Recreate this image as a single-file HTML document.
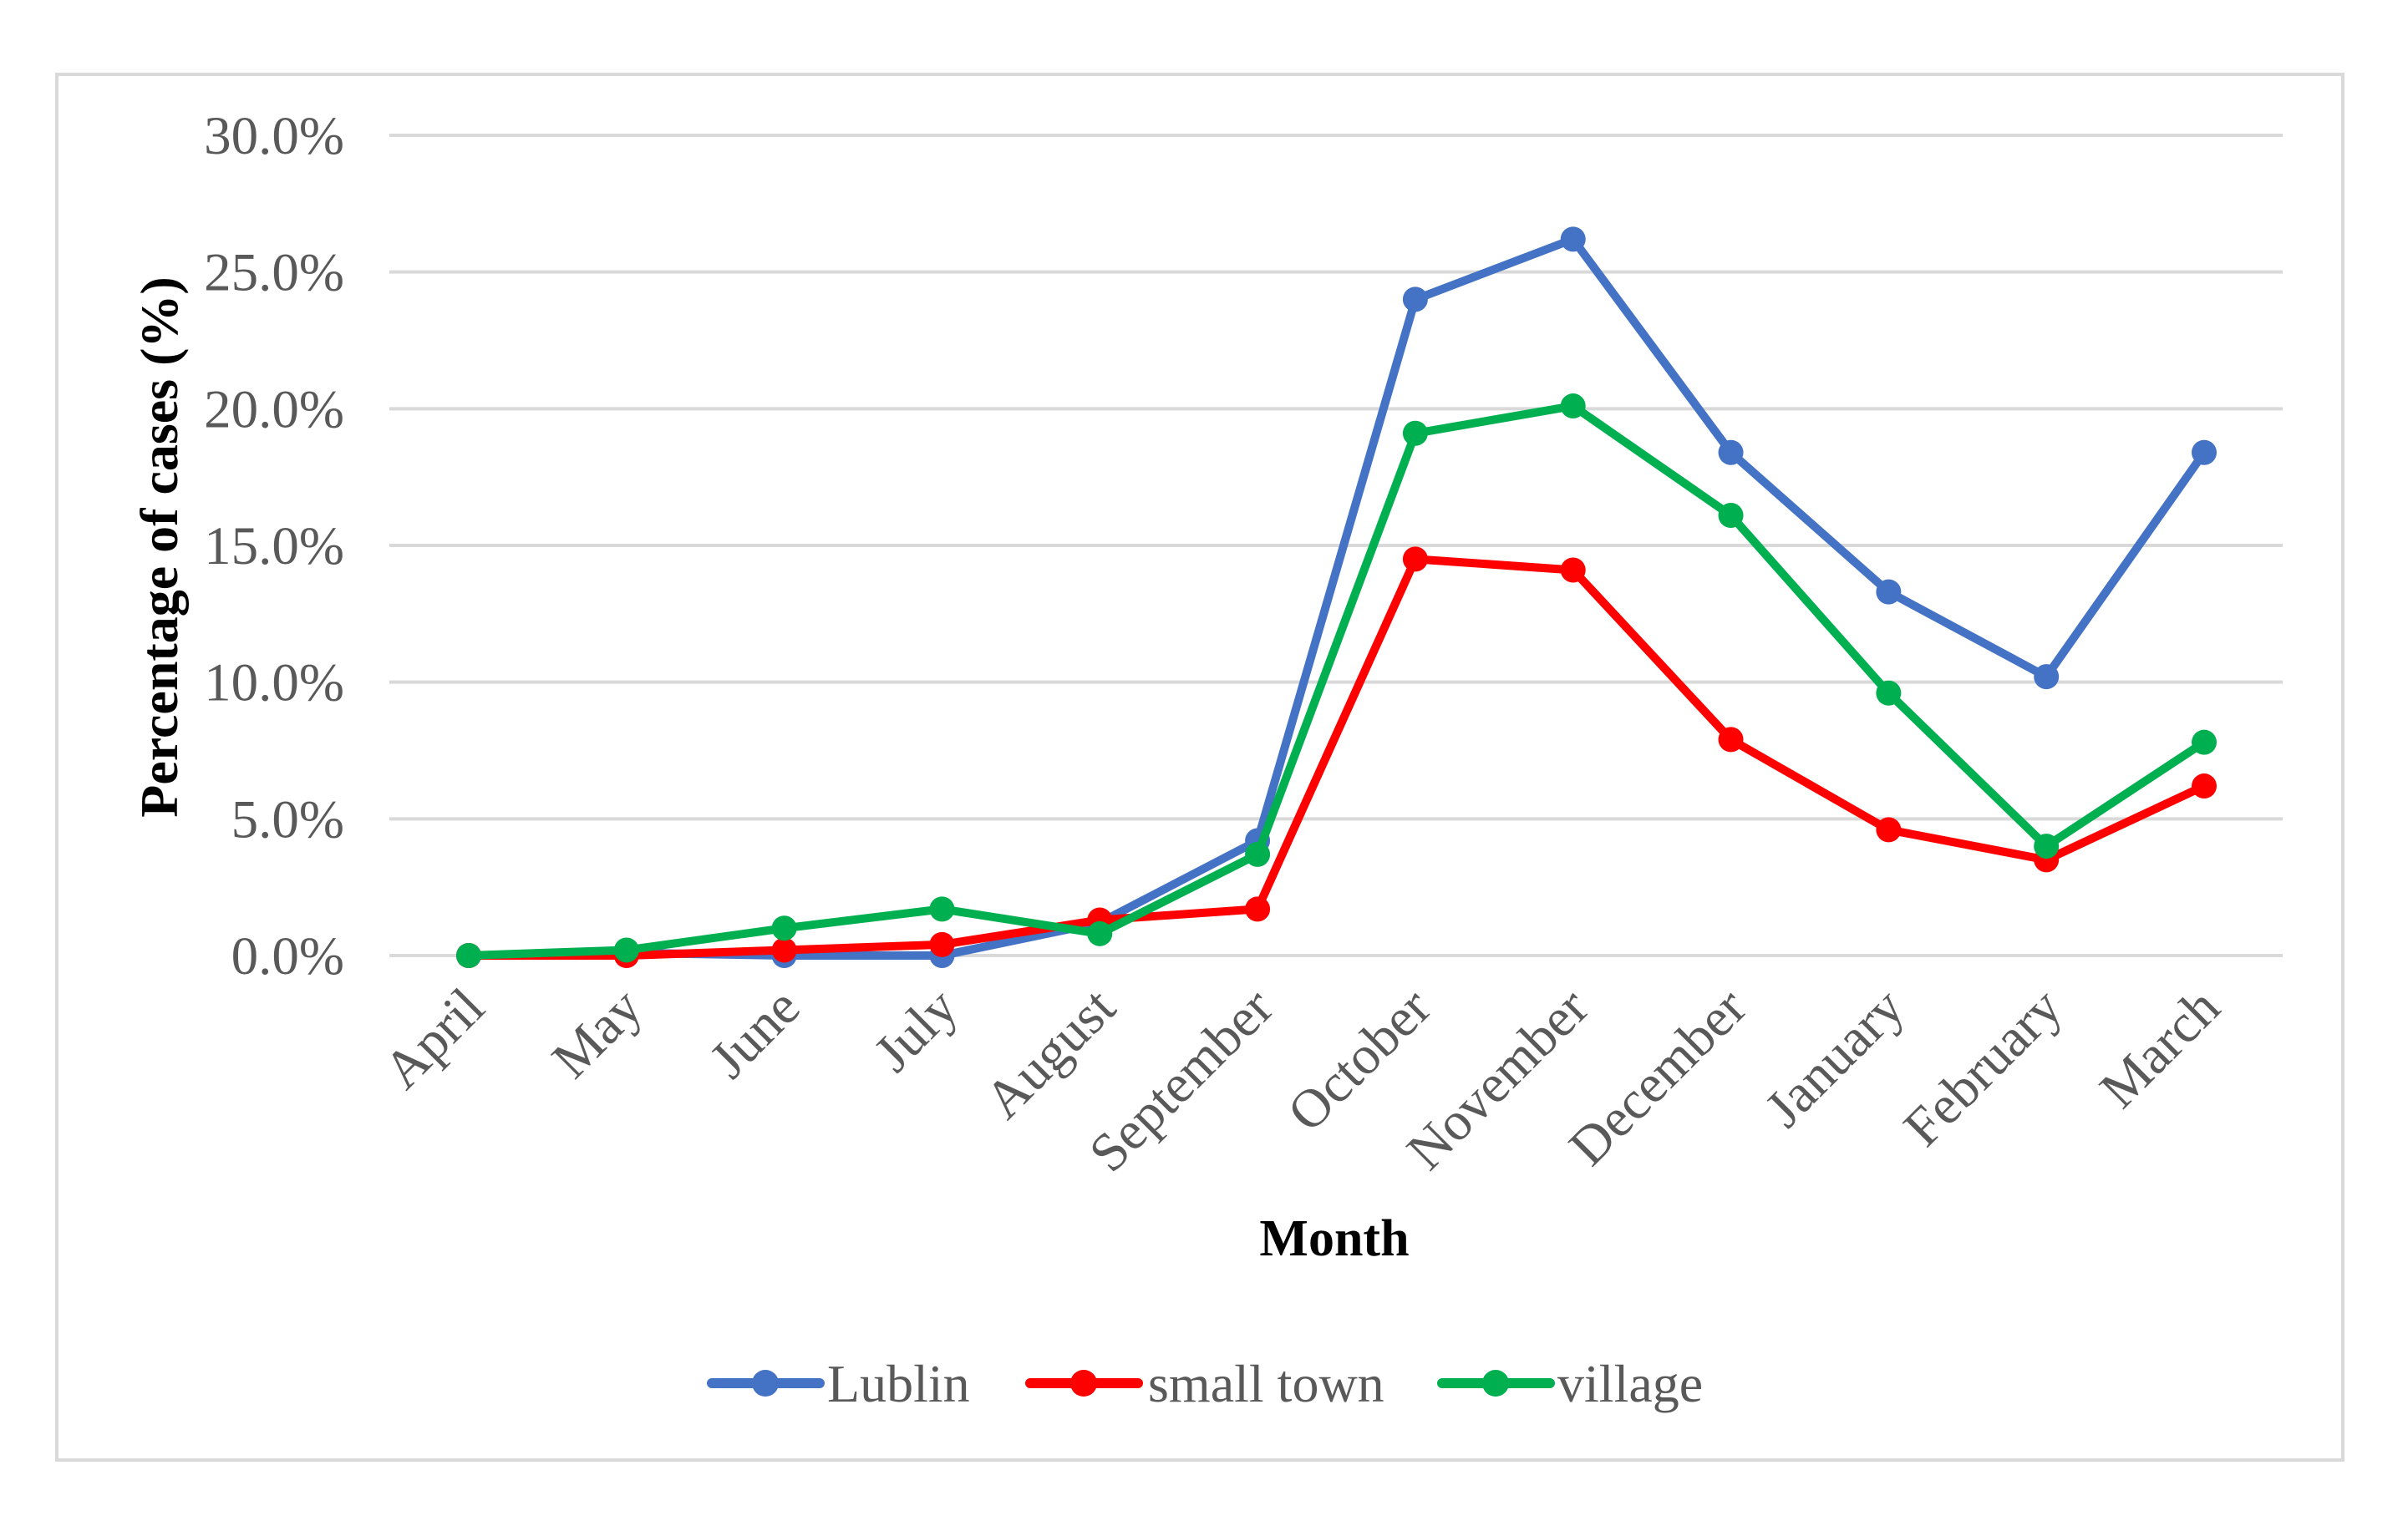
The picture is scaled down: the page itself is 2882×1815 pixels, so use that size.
<!DOCTYPE html>
<html><head><meta charset="utf-8"><style>
html,body{margin:0;padding:0;background:#fff;}
svg{display:block;}
text{font-family:"Liberation Serif",serif;}
</style></head><body>
<svg id="chart" width="2882" height="1815" viewBox="0 0 2882 1815" xmlns="http://www.w3.org/2000/svg">
<rect x="68" y="89" width="2736" height="1659" fill="#fff" stroke="#d9d9d9" stroke-width="4"/>
<g id="grid"></g><g id="yticks"></g><g id="xticks"></g><g id="series"></g>
<text x="0" y="0" transform="translate(212,655) rotate(-90)" text-anchor="middle" font-size="64" font-weight="bold" fill="#000">Percentage of cases (%)</text>
<text x="1597" y="1503" text-anchor="middle" font-size="62" font-weight="bold" fill="#000">Month</text>
<g id="legend"></g>
</svg>
<script>
const categories=["April","May","June","July","August","September","October","November","December","January","February","March"];
const lublin=[0,0.1,0,0,1.2,4.2,24.0,26.2,18.4,13.3,10.2,18.4];
const smallTown=[0,0,0.2,0.4,1.3,1.7,14.5,14.1,7.9,4.6,3.5,6.2];
const village=[0,0.2,1.0,1.7,0.8,3.7,19.1,20.1,16.1,9.6,4.0,7.8];
const yTicks=[0,5,10,15,20,25,30];
const seriesNames=["Lublin","small town","village"];
const NS="http://www.w3.org/2000/svg";
const x0=561,x1=2638,yZero=1144,yTop=162;
function xs(i){return x0+(x1-x0)*i/(categories.length-1);}
function ys(v){return yZero-(yZero-yTop)*v/30;}
function mk(tag,attrs,parent){const e=document.createElementNS(NS,tag);for(const k in attrs)e.setAttribute(k,attrs[k]);parent.appendChild(e);return e;}
const grid=document.getElementById('grid'),yt=document.getElementById('yticks'),xt=document.getElementById('xticks'),ser=document.getElementById('series'),leg=document.getElementById('legend');
yTicks.forEach(v=>{
 const l=mk('line',{x1:466,x2:2732,y1:ys(v),y2:ys(v),stroke:'#d9d9d9','stroke-width':4},grid);
 
 
 const t=mk('text',{x:412,y:ys(v)+22,'text-anchor':'end','font-size':65,fill:'#595959'},yt);
 t.textContent=v.toFixed(1)+'%';
 
 
});
categories.forEach((c,i)=>{
 const t=mk('text',{x:0,y:0,transform:`translate(${xs(i)+22},${1210}) rotate(-45)`,'text-anchor':'end','font-size':65,fill:'#595959'},xt);
 t.textContent=c;
 
 
});
const colors=["#4472C4","#FF0000","#00B050"];
[lublin,smallTown,village].forEach((d,s)=>{
 const g=mk('g',{},ser);
 
 
 const p=mk('polyline',{points:d.map((v,i)=>xs(i)+','+ys(v)).join(' '),fill:'none',stroke:colors[s],'stroke-width':10,'stroke-linejoin':'round'},g);
 
 
 d.forEach((v,i)=>{
  const c=mk('circle',{cx:xs(i),cy:ys(v),r:15,fill:colors[s]},g);
  
  
 });
});
const legX=[852,1233,1726],legTX=[990,1374,1864];
seriesNames.forEach((n,s)=>{
 const g=mk('g',{},leg);
 
 
 mk('line',{x1:legX[s],x2:legX[s]+129,y1:1656,y2:1656,stroke:colors[s],'stroke-width':12,'stroke-linecap':'round'},g);
 mk('circle',{cx:legX[s]+64,cy:1656,r:16,fill:colors[s]},g);
 const t=mk('text',{x:legTX[s],y:1678,'font-size':64,fill:'#595959'},g);
 t.textContent=n;
});
</script>
</body></html>
